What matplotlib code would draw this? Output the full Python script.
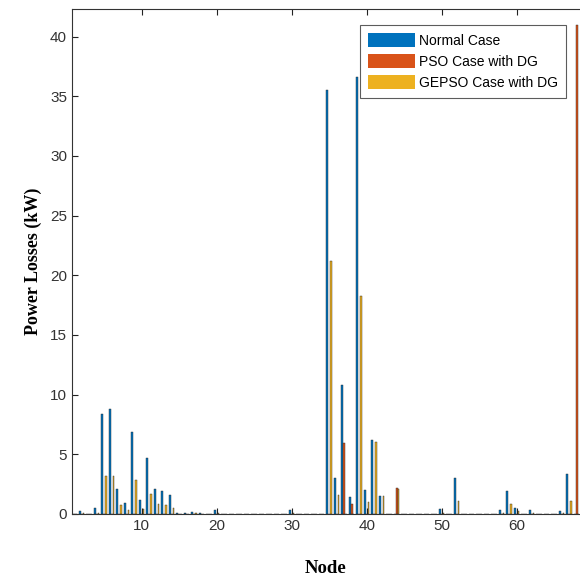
import matplotlib
matplotlib.use("Agg")
import matplotlib.pyplot as plt
import numpy as np

# Branch power losses per node, kW
nodes = list(range(1, 69))

normal_case = [
    0.0, 0.25, 0.0, 0.5, 8.4, 8.8, 2.1, 0.9, 6.9, 1.2,
    4.7, 2.1, 1.9, 1.6, 0.1, 0.1, 0.15, 0.05, 0.0, 0.3,
    0.0, 0.0, 0.0, 0.0, 0.0, 0.0, 0.0, 0.0, 0.0, 0.3,
    0.0, 0.0, 0.0, 0.0, 35.5, 3.0, 10.8, 1.4, 36.6, 2.0,
    6.2, 1.5, 0.0, 0.0, 0.0, 0.0, 0.0, 0.0, 0.0, 0.4,
    0.0, 3.0, 0.0, 0.0, 0.0, 0.0, 0.0, 0.3, 1.9, 0.5,
    0.0, 0.3, 0.0, 0.0, 0.0, 0.25, 3.3, 0.0,
]
pso_case = [
    0.0, 0.0, 0.0, 0.0, 0.0, 0.0, 0.0, 0.0, 0.0, 0.0,
    0.0, 0.0, 0.0, 0.0, 0.0, 0.0, 0.0, 0.0, 0.0, 0.0,
    0.0, 0.0, 0.0, 0.0, 0.0, 0.0, 0.0, 0.0, 0.0, 0.0,
    0.0, 0.0, 0.0, 0.0, 0.0, 0.0, 5.9, 0.8, 0.0, 0.0,
    0.0, 0.0, 0.0, 2.2, 0.0, 0.0, 0.0, 0.0, 0.0, 0.0,
    0.0, 0.0, 0.0, 0.0, 0.0, 0.0, 0.0, 0.0, 0.0, 0.0,
    0.0, 0.0, 0.0, 0.0, 0.0, 0.0, 0.0, 41.0,
]
gepso_case = [
    0.0, 0.05, 0.0, 0.1, 3.2, 3.2, 0.7, 0.3, 2.8, 0.4,
    1.7, 0.8, 0.7, 0.5, 0.0, 0.0, 0.05, 0.0, 0.0, 0.1,
    0.0, 0.0, 0.0, 0.0, 0.0, 0.0, 0.0, 0.0, 0.0, 0.1,
    0.0, 0.0, 0.0, 0.0, 21.2, 1.6, 0.0, 0.0, 18.3, 1.0,
    6.0, 1.5, 0.0, 2.1, 0.0, 0.0, 0.0, 0.0, 0.0, 0.1,
    0.0, 1.1, 0.0, 0.0, 0.0, 0.0, 0.0, 0.1, 0.8, 0.2,
    0.0, 0.1, 0.0, 0.0, 0.0, 0.1, 1.1, 0.0,
]

series = [
    ("Normal Case", normal_case, "#0072BD"),
    ("PSO Case with DG", pso_case, "#D95319"),
    ("GEPSO Case with DG", gepso_case, "#EDB120"),
]


def main():
    fig = plt.figure(figsize=(5.8, 5.78), dpi=100)
    ax = fig.add_axes([0.124, 0.111, 0.876, 0.873])

    x = np.array(nodes, dtype=float)
    step = 0.25
    width = 0.24
    for i, (label, vals, color) in enumerate(series):
        ax.bar(x + (i - 1) * step, vals, width=width, color=color,
               edgecolor="#2a2a2a", linewidth=0.3, label=label)

    ax.set_xlim(0.7, 68.45)
    ax.set_ylim(0, 42.3)
    ax.set_xticks([10, 20, 30, 40, 50, 60])
    ax.set_yticks(range(0, 41, 5))
    ax.tick_params(direction="in", top=True, length=4, width=0.8,
                   labelsize=11, colors="#222222")
    for lbl in ax.get_xticklabels() + ax.get_yticklabels():
        lbl.set_fontfamily("Liberation Sans")
        lbl.set_color("#333333")
    ax.spines["right"].set_visible(False)
    for side in ("left", "bottom", "top"):
        ax.spines[side].set_color("#333333")
        ax.spines[side].set_linewidth(0.8)

    ax.set_xlabel("Node", fontfamily="Liberation Serif", fontweight="bold",
                  fontsize=13.5, labelpad=20)
    ax.set_ylabel("Power Losses (kW)", fontfamily="Liberation Serif",
                  fontweight="bold", fontsize=13, labelpad=6)

    leg = ax.legend(loc="upper right", bbox_to_anchor=(0.972, 0.968),
                    prop={"family": "Liberation Sans", "size": 10},
                    frameon=True, fancybox=False, edgecolor="#333333",
                    handlelength=3.4, handleheight=1.2, handletextpad=0.3,
                    labelspacing=0.45, borderpad=0.55, borderaxespad=0.0)
    leg.get_frame().set_linewidth(0.8)
    for h in leg.legend_handles:
        h.set_edgecolor("none")

    fig.savefig("out.png", dpi=100)


if __name__ == "__main__":
    main()
